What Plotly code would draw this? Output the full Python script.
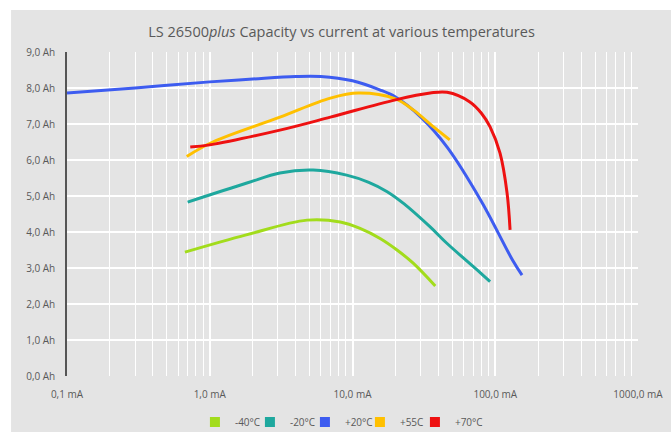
import plotly.graph_objects as go

# Data (current in mA, capacity in Ah)
m40_x = [0.67, 1.8, 4.8, 8.2, 11.3, 15.6, 20.5, 26.5, 38]
m40_y = [3.44, 3.92, 4.33, 4.28, 4.1, 3.82, 3.5, 3.14, 2.5]

m20_x = [0.7, 1.82, 3.1, 5.3, 9.1, 13, 17.5, 23, 35, 46, 78, 92]
m20_y = [4.83, 5.36, 5.64, 5.72, 5.58, 5.38, 5.12, 4.78, 4.14, 3.68, 2.88, 2.62]

p20_x = [0.1, 0.3, 1.0, 2.0, 4.0, 6.0, 10, 15.5, 20, 30, 46, 80, 133, 154]
p20_y = [7.86, 8.0, 8.17, 8.25, 8.32, 8.32, 8.2, 7.95, 7.75, 7.2, 6.36, 4.85, 3.2, 2.8]

p55_x = [0.69, 1.05, 3.1, 7.0, 11, 20, 26.5, 37, 48]
p55_y = [6.1, 6.5, 7.19, 7.72, 7.86, 7.7, 7.4, 6.92, 6.56]

p70_x = [0.73, 1.0, 3.1, 7.0, 20, 35, 46, 66, 80, 92, 108, 121, 127]
p70_y = [6.36, 6.42, 6.83, 7.19, 7.67, 7.86, 7.88, 7.62, 7.3, 6.92, 6.19, 5.08, 4.06]

series_names = ["-40°C", "-20°C", "+20°C", "+55C", "+70°C"]
series_colors = ["#a2dc1c", "#1ea89e", "#3d5cf0", "#ffc000", "#ee1111"]
series_x = [m40_x, m20_x, p20_x, p55_x, p70_x]
series_y = [m40_y, m20_y, p20_y, p55_y, p70_y]

TXT = "#595959"
BG = "#e4e4e4"

fig = go.Figure()
for name, col, xs, ys in zip(series_names, series_colors, series_x, series_y):
    fig.add_trace(go.Scatter(x=xs, y=ys, mode="lines", name=name,
                             line=dict(color=col, width=3, shape="spline", smoothing=1.0),
                             showlegend=False, hoverinfo="skip"))
for name, col in zip(series_names, series_colors):
    fig.add_trace(go.Scatter(x=[None], y=[None], mode="markers", name=name,
                             marker=dict(color=col, symbol="square", size=10)))
# invisible spacer entry so the last legend label is not clipped
fig.add_trace(go.Scatter(x=[None], y=[None], mode="markers", name=" ",
                         marker=dict(color="rgba(0,0,0,0)", size=1)))

fig.update_layout(
    width=671, height=432,
    margin=dict(l=67, r=33, t=52, b=56, autoexpand=False),
    paper_bgcolor="white",
    plot_bgcolor=BG,
    separators=", ",
    font=dict(family="Open Sans", size=10, color=TXT),
    title=dict(text="LS 26500<i>plus</i> Capacity vs current at various temperatures",
               x=0.509, xanchor="center", yref="container", y=0.926, yanchor="middle",
               font=dict(size=14.5, color=TXT)),
    legend=dict(orientation="h", x=0.513, xanchor="center",
                yref="container", y=0.023, yanchor="middle",
                font=dict(size=10, color=TXT), bgcolor="rgba(0,0,0,0)",
                itemwidth=30, entrywidth=10, entrywidthmode="pixels", tracegroupgap=0),
    shapes=[dict(type="rect", xref="paper", yref="paper",
                 x0=-0.098, x1=1.1, y0=-0.25, y1=1.1296,
                 fillcolor=BG, line=dict(width=0), layer="below")],
)
fig.update_xaxes(type="log", range=[-1, 3], dtick=1, tickformat=".1f", ticksuffix=" mA",
                 showgrid=True, gridcolor="white", gridwidth=1.5,
                 minor=dict(showgrid=True, gridcolor="white", gridwidth=1),
                 zeroline=False, showline=False, automargin=False,
                 ticks="outside", ticklen=9, tickcolor=BG)
fig.update_yaxes(range=[0, 9], dtick=1, tickformat=".1f", ticksuffix=" Ah",
                 showgrid=True, gridcolor="white", gridwidth=1.5,
                 zeroline=False, showline=True, linecolor="#555555", linewidth=1.5,
                 automargin=False,
                 ticks="outside", ticklen=8, tickcolor=BG)

fig.write_html("out.html", config={"displayModeBar": False},
               post_script="document.body.style.margin='0';document.body.style.overflow='hidden';")
